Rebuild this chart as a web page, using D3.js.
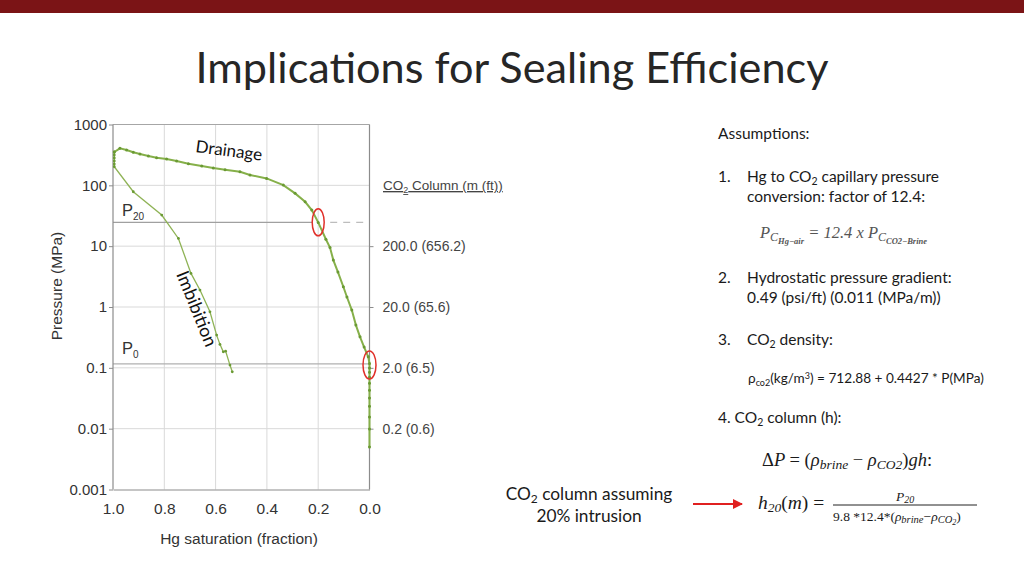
<!DOCTYPE html>
<html><head><meta charset="utf-8">
<script src="https://cdn.jsdelivr.net/npm/d3@7"></script>
<style>
html,body{margin:0;padding:0;background:#fff;}
svg{display:block;}
</style></head>
<body>
<svg id="c" width="1024" height="576"></svg>
<script>
// ---------- data ----------
const xTicks = [1.0, 0.8, 0.6, 0.4, 0.2, 0.0];
const yTicks = [0.001, 0.01, 0.1, 1, 10, 100, 1000];
const yTickLabels = ["0.001", "0.01", "0.1", "1", "10", "100", "1000"];
const colTicks = [10, 1, 0.1, 0.01];
const colTickLabels = ["200.0 (656.2)", "20.0 (65.6)", "2.0 (6.5)", "0.2 (0.6)"];
const gridX = [0.8, 0.6, 0.4, 0.2];
const gridY = [0.01, 0.1, 1, 10, 100];

const drainSat = [0,0,0,0,0,0,0,0,0,0,0,
  0.005,0.021,0.037,0.053,0.069,0.088,0.102,0.123,0.141,0.154,0.170,
  0.200,0.225,0.251,0.290,0.336,0.401,0.466,0.505,0.563,0.609,0.654,0.706,
  0.752,0.791,0.830,0.862,0.895,0.921,0.947,0.973,0.995];
const drainP = [0.0050,0.0099,0.0155,0.0234,0.0318,0.043,0.056,0.070,0.085,0.099,0.118,
  0.152,0.219,0.324,0.504,0.889,1.46,2.15,3.75,5.9,9.5,13,
  24.6,39.3,53.7,73.8,101,130,148,167,181,193,208,226,
  251,271,285,303,327,349,381,406,353];
const imbSat = [0.995,0.995,0.995,0.995,0.995,0.995,0.921,0.810,0.745,0.696,0.661,0.622,0.596,0.583,0.570,0.561,0.544,0.535];
const imbP = [353,315,282,251,224,202,78.5,32.5,13.4,3.57,1.9,0.834,0.345,0.243,0.183,0.188,0.111,0.086];

const p20 = 24.7;     // MPa, pressure at 20% Hg saturation
const p20Sat = 0.2;
const p0 = 0.116;     // MPa, entry pressure
const p0Sat = 0.0;

// ---------- setup ----------
const svg = d3.select("#c");
const SANS = "'Liberation Sans', Arial, sans-serif";
const CAL = "Lato, 'Open Sans', sans-serif";
const SERIF = "'Liberation Serif', 'DejaVu Serif', serif";

// top bar
svg.append("rect").attr("x",0).attr("y",0).attr("width",1024).attr("height",13).attr("fill","#7b1416");

// title
const title = svg.append("text").attr("x",512).attr("y",83).attr("text-anchor","middle")
  .attr("font-family",CAL).attr("font-size",44).attr("fill","#262626")
  .text("Implications for Sealing Efficiency");
(function fit(){ const w = title.node().getComputedTextLength(); title.attr("font-size", 44*633/w); })();

// scales
const x = d3.scaleLinear().domain([1,0]).range([113,369.5]);
const y = d3.scaleLog().domain([0.001,1000]).range([489.5,124.5]);

const g = svg.append("g");
// gridlines
g.selectAll(".gx").data(gridX).enter().append("line")
  .attr("x1",d=>x(d)).attr("x2",d=>x(d)).attr("y1",y(1000)).attr("y2",y(0.001))
  .attr("stroke","#d9d9d9").attr("stroke-width",1);
g.selectAll(".gy").data(gridY).enter().append("line")
  .attr("x1",x(1)).attr("x2",x(0)).attr("y1",d=>y(d)).attr("y2",d=>y(d))
  .attr("stroke","#d9d9d9").attr("stroke-width",1);
// top frame
g.append("line").attr("x1",x(1)).attr("x2",x(0)).attr("y1",y(1000)).attr("y2",y(1000))
  .attr("stroke","#a6a6a6").attr("stroke-width",1);

// P20 and P0 reference lines
g.append("line").attr("x1",x(1)).attr("x2",x(p20Sat)-6).attr("y1",y(p20)).attr("y2",y(p20))
  .attr("stroke","#a0a0a0").attr("stroke-width",1.2);
g.append("line").attr("x1",x(p20Sat)+12).attr("x2",x(0)).attr("y1",y(p20)).attr("y2",y(p20))
  .attr("stroke","#bdbdbd").attr("stroke-width",1.2).attr("stroke-dasharray","7,6");
g.append("line").attr("x1",x(1)).attr("x2",x(0)).attr("y1",y(p0)).attr("y2",y(p0))
  .attr("stroke","#b0b0b0").attr("stroke-width",1.2);

// axes
const axL = g.append("g").attr("transform",`translate(${x(1)},0)`)
  .call(d3.axisLeft(y).tickValues(yTicks).tickFormat((d,i)=>yTickLabels[i]).tickSize(4).tickPadding(2));
const axB = g.append("g").attr("transform",`translate(0,${y(0.001)})`)
  .call(d3.axisBottom(x).tickValues(xTicks).tickFormat(d3.format(".1f")).tickSize(0).tickPadding(13));
const axR = g.append("g").attr("transform",`translate(${x(0)},0)`)
  .call(d3.axisRight(y).tickValues(colTicks).tickFormat((d,i)=>colTickLabels[i]).tickSize(4).tickPadding(9));
[axL,axB,axR].forEach(a=>{
  a.select(".domain").attr("stroke","#8c8c8c").attr("stroke-width",1.2);
  a.selectAll(".tick line").attr("stroke","#8c8c8c");
  a.selectAll("text").attr("font-family",SANS).attr("fill","#333");
});
axL.selectAll("text").attr("font-size",15);
axB.selectAll("text").attr("font-size",15.5);
axR.selectAll("text").attr("font-size",14).attr("fill","#444");
axL.select(".domain").attr("d",`M-0,${y(0.001)}V${y(1000)}`);
axR.select(".domain").attr("d",`M0,${y(0.001)}V${y(1000)}`);

// axis titles
svg.append("text").attr("x",239).attr("y",544).attr("text-anchor","middle")
  .attr("font-family",SANS).attr("font-size",15.5).attr("fill","#333").text("Hg saturation (fraction)");
svg.append("text").attr("transform","translate(62,286) rotate(-90)").attr("text-anchor","middle")
  .attr("font-family",SANS).attr("font-size",15.5).attr("fill","#333").text("Pressure (MPa)");
const colT = svg.append("text").attr("x",383).attr("y",190).attr("font-family",SANS).attr("font-size",13.5)
  .attr("fill","#444").attr("text-decoration","underline");
colT.append("tspan").text("CO");
colT.append("tspan").attr("font-size",9).attr("dy",3).text("2");
colT.append("tspan").attr("dy",-3).text(" Column (m (ft))");

// curves
const GREEN = "#86b04a", DOT = "#6a9a33";
const drain = drainSat.map((s,i)=>({s, p:drainP[i]}));
const imb = imbSat.map((s,i)=>({s, p:imbP[i]}));
const line = d3.line().x(d=>x(d.s)).y(d=>y(d.p));
g.append("path").datum(imb).attr("d",line).attr("fill","none").attr("stroke","#8fb356").attr("stroke-width",1.3);
g.append("path").datum(drain).attr("d",line).attr("fill","none").attr("stroke",GREEN).attr("stroke-width",2);
g.selectAll(".dd").data(drain).enter().append("circle").attr("cx",d=>x(d.s)).attr("cy",d=>y(d.p)).attr("r",1.5).attr("fill",DOT);
g.selectAll(".di").data(imb).enter().append("circle").attr("cx",d=>x(d.s)).attr("cy",d=>y(d.p)).attr("r",1.4).attr("fill",DOT);

// red ellipses
g.append("ellipse").attr("cx",x(p20Sat)).attr("cy",y(p20)).attr("rx",6).attr("ry",13.5)
  .attr("fill","none").attr("stroke","#e0302a").attr("stroke-width",1.5);
g.append("ellipse").attr("cx",x(p0Sat)).attr("cy",y(p0)+1).attr("rx",6.5).attr("ry",14)
  .attr("fill","none").attr("stroke","#e0302a").attr("stroke-width",1.5);

// P labels
function plabel(xp, yp, sub){
  const t = svg.append("text").attr("x",xp).attr("y",yp).attr("font-family",SANS).attr("font-size",16.5).attr("fill","#333");
  t.append("tspan").text("P");
  t.append("tspan").attr("font-size",10).attr("dy",4).text(sub);
}
plabel(122, 216, "20");
plabel(122, 354, "0");

// curve labels
svg.append("text").attr("transform","translate(195,152) rotate(7.5)").attr("font-family",CAL).attr("font-size",17)
  .attr("fill","#111").text("Drainage");
svg.append("text").attr("transform","translate(176,274) rotate(68)").attr("font-family",CAL).attr("font-size",18)
  .attr("fill","#111").text("Imbibition");

// ---------- right text panel ----------
const TXT = "#1a1a1a";
function txt(xp, yp, size, parts, opts={}){
  const t = svg.append("text").attr("x",xp).attr("y",yp).attr("font-family",opts.family||CAL)
    .attr("font-size",size).attr("fill",opts.fill||TXT);
  if(opts.anchor) t.attr("text-anchor",opts.anchor);
  if(opts.italic) t.attr("font-style","italic");
  let cur = 0;
  parts.forEach(p=>{
    if(typeof p === "string"){ const s=t.append("tspan").text(p); if(cur){s.attr("dy",-cur);cur=0;} }
    else {
      const s=t.append("tspan").text(p.t);
      if(p.s) s.attr("font-size",p.s);
      const d=(p.dy||0)-cur; if(d) s.attr("dy",d); cur=p.dy||0;
      if(p.style) s.attr("font-style",p.style);
      if(p.weight) s.attr("font-weight",p.weight);
    }
  });
  return t;
}
txt(718, 139, 15.5, ["Assumptions:"]);
txt(718, 182, 15.5, ["1."]);
txt(747, 182, 15.5, ["Hg to CO", {t:"2",s:10.5,dy:3}, " capillary pressure"]);
txt(747, 202, 15.5, ["conversion: factor of 12.4:"]);
txt(760, 238, 16.5, ["P", {t:"C",s:12,dy:3}, {t:"Hg−air",s:8.5,dy:6,weight:"bold"}, " = 12.4 ", "x P",
  {t:"C",s:12,dy:3}, {t:"CO2−Brine",s:8.5,dy:6,weight:"bold"}], {family:SERIF, italic:true, fill:"#555"});
txt(718, 283, 15.5, ["2."]);
txt(747, 283, 15.5, ["Hydrostatic pressure gradient:"]);
txt(747, 303, 15.5, ["0.49 (psi/ft) (0.011 (MPa/m))"]);
txt(718, 345, 15.5, ["3."]);
txt(747, 345, 15.5, ["CO", {t:"2",s:10.5,dy:3}, " density:"]);
txt(748, 383, 13.6, ["ρ", {t:"co2",s:9,dy:3}, "(kg/m", {t:"3",s:9,dy:-4}, ") = 712.88 + 0.4427 * P(MPa)"]);
txt(718, 423, 15.5, ["4. CO", {t:"2",s:10.5,dy:3}, " column (h):"]);
txt(762, 466, 18.5, [{t:"Δ",style:"normal"}, "P ", {t:"= (",style:"normal"}, "ρ", {t:"brine",s:13.5,dy:3},
  {t:" − ",style:"normal"}, "ρ", {t:"CO2",s:13.5,dy:3}, {t:")",style:"normal"}, "gh", {t:":",style:"normal"}], {family:SERIF, italic:true});
txt(758, 509, 19.5, ["h", {t:"20",s:13.5,dy:3}, {t:"(",style:"normal"}, "m", {t:") =",style:"normal"}], {family:SERIF, italic:true});
// fraction
svg.append("line").attr("x1",833).attr("x2",977).attr("y1",505).attr("y2",505).attr("stroke","#222").attr("stroke-width",1);
txt(905, 501, 13.5, ["P", {t:"20",s:10,dy:2}], {family:SERIF, italic:true, anchor:"middle"});
txt(833, 521, 13.5, [{t:"9.8 *12.4*(",style:"normal"}, "ρ", {t:"brine",s:10.5,dy:2}, {t:"−",style:"normal"}, "ρ", {t:"CO",s:10.5,dy:2}, {t:"2",s:8,dy:4}, {t:")",style:"normal"}], {family:SERIF, italic:true});

// arrow
const defs = svg.append("defs");
defs.append("marker").attr("id","ah").attr("viewBox","0 0 10 10").attr("refX",9).attr("refY",5)
  .attr("markerWidth",5).attr("markerHeight",5).attr("orient","auto")
  .append("path").attr("d","M0,0L10,5L0,10z").attr("fill","#e02020");
svg.append("line").attr("x1",693).attr("x2",742).attr("y1",504).attr("y2",504).attr("stroke","#e02020")
  .attr("stroke-width",2).attr("marker-end","url(#ah)");

// left annotation
txt(589, 500, 17.3, ["CO", {t:"2",s:12,dy:3}, " column assuming"], {anchor:"middle"});
txt(589, 522, 17.3, ["20% intrusion"], {anchor:"middle"});
</script>
</body></html>
